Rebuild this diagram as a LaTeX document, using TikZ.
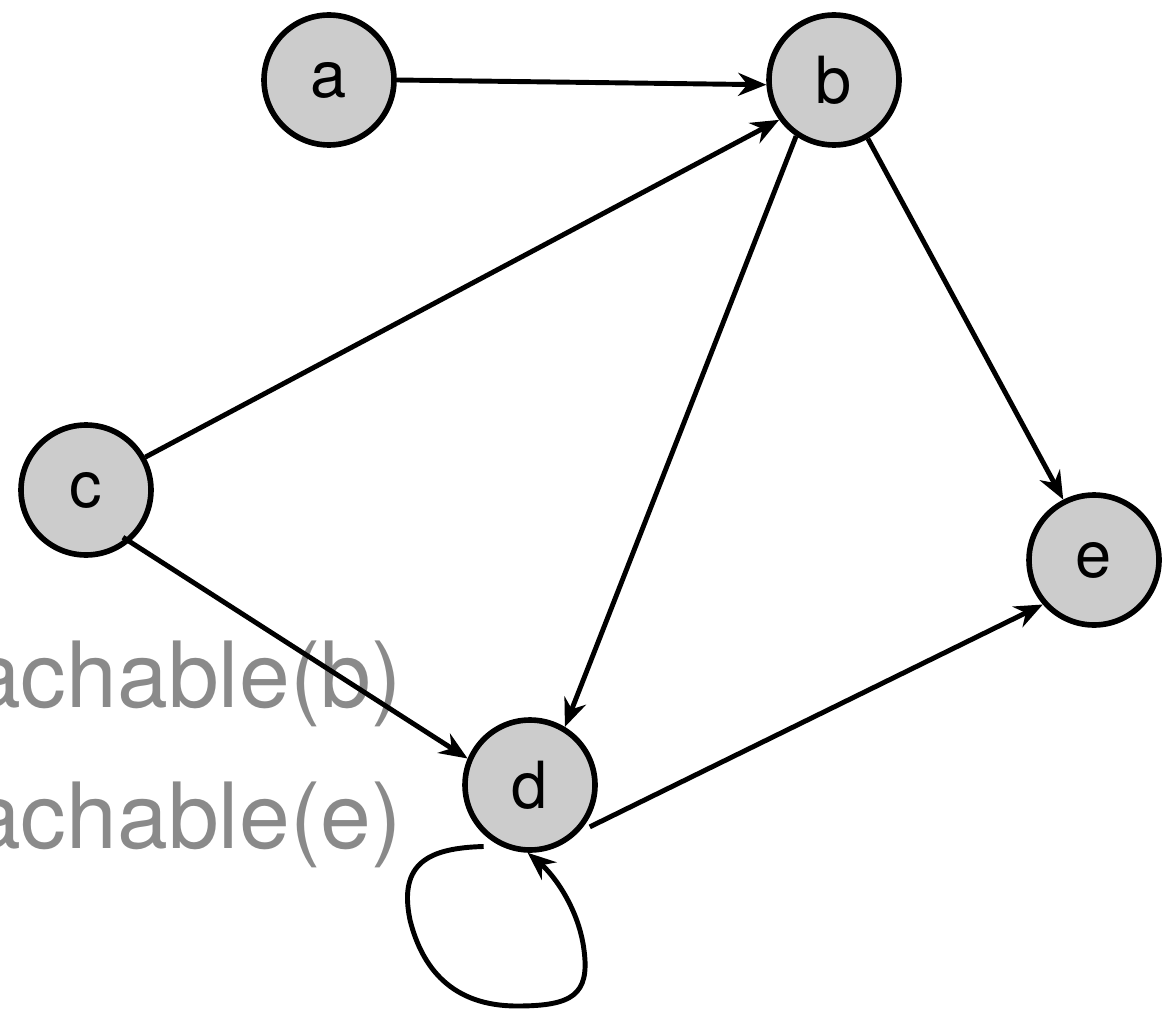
\documentclass[tikz,border=0pt]{standalone}
\usepackage{fontspec}
\setmainfont{TeX Gyre Heros}
\usetikzlibrary{arrows.meta, calc}

\definecolor{nodegray}{HTML}{CCCCCC}
\definecolor{notegray}{HTML}{8A8A8A}

\begin{document}
\begin{tikzpicture}[x=0.02cm, y=-0.02cm,
  >={Stealth[length=16pt, width=13pt]},
  vertex/.style={circle, draw=black, fill=nodegray, line width=3.2pt,
    minimum size=2.6cm, inner sep=0pt, font=\fontsize{37}{40}\selectfont},
  edge/.style={->, line width=2.8pt},
  note/.style={text=notegray, anchor=base east, inner sep=0pt,
    font=\fontsize{52}{60}\selectfont}]
\useasboundingbox (0,0) rectangle (1172,1010);

% Labels behind the graph
\node[note] (reachb) at (402,707) {achable(b)};
\node[note] (reache) at (402,848) {achable(e)};

% Vertices
\node[vertex] (a) at (329,80) {a};
\node[vertex] (b) at (834,80) {b};
\node[vertex] (c) at (86,490) {c};
\node[vertex] (d) at (530,785) {d};
\node[vertex] (e) at (1094,560) {e};

% Edges
\draw[edge] (a.0) -- (b.184);
\draw[edge] (c.29) -- (b.216);
\draw[edge] (b.236) -- (d.59);
\draw[edge] (b.300) -- (e.117);
\draw[edge] ($(c.center)+(-52:1.2cm)$) -- (d.157);
\draw[edge] ($(d.center)+(-35:1.46cm)$) -- (e.221);

% Self loop on d
\draw[edge] ($(d.center)+(233:1.54cm)$)
    .. controls (430,848) and (398,862) .. (410,920)
    .. controls (422,968) and (452,1006) .. (517,1006)
    .. controls (572,1006) and (590,995) .. (584,950)
    .. controls (579,910) and (555,876) .. (d.268);
\end{tikzpicture}
\end{document}
